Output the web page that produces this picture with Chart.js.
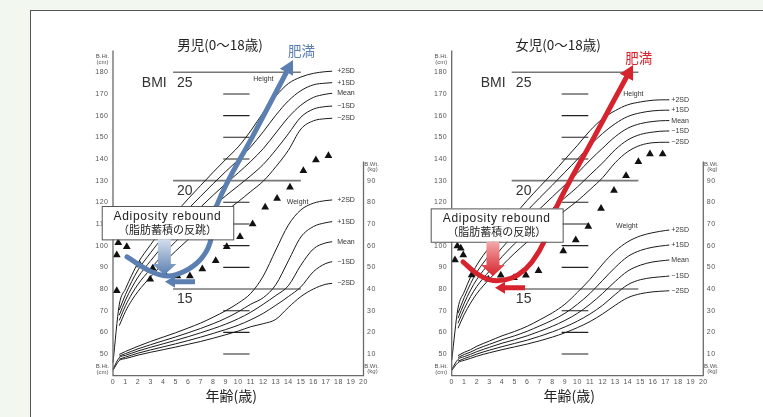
<!DOCTYPE html>
<html><head><meta charset="utf-8">
<script src="https://cdn.jsdelivr.net/npm/chart.js@4.4.1/dist/chart.umd.min.js"></script>
<style>
html,body{margin:0;padding:0;background:#f2f7f0;width:763px;height:417px;overflow:hidden}
#panel{position:absolute;left:30px;top:10px;width:760px;height:420px;background:#fff;border:1px solid #555}
canvas{position:absolute;top:0}
#c1{left:0}
#c2{left:400px}
</style></head><body>
<div id="panel"></div>
<canvas id="c1" width="400" height="417"></canvas>
<canvas id="c2" width="363" height="417"></canvas>
<script>
// ticks
const xTicks = [0,1,2,3,4,5,6,7,8,9,10,11,12,13,14,15,16,17,18,19,20];
const htTicks = [50,60,70,80,90,100,110,120,130,140,150,160,170,180];
const wtTicks = [10,20,30,40,50,60,70,80,90];
const sdLabels = ['+2SD','+1SD','Mean','\u22121SD','\u22122SD'];

// BMI reference lines (height axis)
const bmiVals = ['25','20','15'];
const bmiHt = [180,130,80];
const bmiShortHt = [170,160,150,140,120,110,100,90,70,60,50];

// boys
const boyAges = [0,0.5,1,1.5,2,3,4,5,6,7,8,9,10,11,12,13,14,15,16,17,17.5];
const boyHtP2 = [46.0,72.7,80.1,86.4,92.1,100.4,108.2,115.1,121.6,127.8,133.9,139.8,145.6,153.0,161.5,169.0,174.8,177.8,179.5,180.3,180.5];
const boyHtP1 = [null,70.3,77.5,83.5,88.8,96.7,104.1,110.7,116.9,122.8,128.6,134.2,139.6,145.6,152.6,160.2,166.8,171.5,174.2,175.0,175.2];
const boyHtM  = [null,67.9,74.9,80.6,85.5,93.0,100.0,106.3,112.2,117.8,123.3,128.6,133.6,138.9,144.8,152.0,159.2,164.8,168.4,169.9,170.3];
const boyHtM1 = [null,65.5,72.3,77.7,82.2,89.3,95.9,101.9,107.5,112.8,118.0,123.0,127.6,132.3,137.5,144.2,151.6,159.3,163.0,164.2,164.4];
const boyHtM2 = [null,63.1,69.7,74.8,78.9,85.6,91.8,97.5,102.8,107.8,112.7,116.0,120.3,125.0,129.8,136.4,144.0,153.8,157.6,158.6,158.8];
const boyWtP2 = [null,9.8,11.2,12.4,13.6,15.8,17.8,19.8,22.0,24.3,27.0,30.0,33.5,38.0,46.0,58.0,69.5,76.5,79.6,80.8,81.1];
const boyWtP1 = [null,9.0,10.2,11.3,12.4,14.3,16.1,17.9,19.8,21.8,24.0,26.5,29.5,33.0,36.0,42.0,53.0,64.0,68.8,70.6,71.1];
const boyWtM  = [3.0,8.3,9.4,10.4,11.4,13.1,14.7,16.3,18.0,19.8,21.7,23.8,26.3,29.3,33.0,37.0,41.5,51.0,58.5,61.3,61.8];
const boyWtM1 = [null,7.6,8.6,9.5,10.4,11.9,13.3,14.7,16.2,17.8,19.5,21.3,23.3,25.8,28.8,32.5,36.5,41.0,48.0,51.8,52.6];
const boyWtM2 = [2.5,7.0,7.9,8.7,9.5,10.8,12.0,13.2,14.5,15.8,17.3,18.9,20.6,22.6,24.0,26.0,31.5,36.5,40.0,42.2,42.6];
const boyTriAge = [0.3,0.3,0.42,1.1,2.15,2.97,3.17,4.15,5.14,6.14,7.13,8.2,9.08,10.14,11.15,12.15,13.1,14.13,15.2,16.2,17.2];
const boyTriHt  = [79.2,95.7,101.4,99.5,91.1,84.5,89.6,86.9,86.0,86.0,89.2,93.0,99.5,104.1,110.0,117.7,121.8,127.0,134.6,139.5,141.5];
const boyArrAge = [1.12,2.95,4.31,5.59,6.95,7.74,8.30,11.34,13.85];
const boyArrHt  = [94.8,88.3,86.0,87.8,93.4,101.2,118.8,152.5,180.0];

// girls
const girlAges = [0,0.5,1,1.5,2,3,4,5,6,7,8,9,10,11,12,13,14,15,16,17,17.3];
const girlHtP2 = [47.0,71.1,78.7,85.5,91.1,99.4,107.2,114.1,120.9,127.2,133.3,139.8,146.3,153.1,158.6,162.3,165.0,166.3,167.1,167.3,167.3];
const girlHtP1 = [null,68.8,76.1,82.5,87.8,95.7,103.1,109.7,116.1,122.1,127.9,133.9,139.9,146.3,151.8,156.3,159.6,161.3,162.2,162.5,162.5];
const girlHtM  = [null,66.5,73.5,79.5,84.5,92.0,99.0,105.3,111.3,117.0,122.5,128.0,133.5,139.5,145.0,150.3,154.2,156.3,157.3,157.7,157.7];
const girlHtM1 = [null,64.2,70.9,76.5,81.2,88.3,94.9,100.9,106.5,111.9,117.1,122.1,127.1,132.7,138.2,144.3,148.8,151.3,152.4,152.9,152.9];
const girlHtM2 = [null,61.9,68.3,73.5,77.9,84.6,90.8,96.5,101.7,106.8,111.7,116.2,120.7,125.9,131.4,138.3,143.4,146.3,147.5,147.7,147.7];
const girlWtP2 = [null,9.3,10.8,12.0,13.6,16.0,18.4,20.4,22.8,25.8,29.0,33.0,38.5,44.5,51.5,57.5,61.8,64.5,66.0,67.0,67.2];
const girlWtP1 = [null,8.4,9.8,10.9,12.3,14.5,16.6,18.4,20.5,23.0,25.6,28.8,33.0,38.0,44.0,50.0,55.0,57.8,59.3,60.1,60.3];
const girlWtM  = [2.9,7.5,8.8,9.9,11.1,13.1,15.0,16.6,18.4,20.5,22.8,25.5,28.8,33.0,38.0,43.5,48.3,51.0,52.5,53.2,53.4];
const girlWtM1 = [null,6.7,7.9,8.9,10.0,11.8,13.4,14.9,16.4,18.2,20.2,22.5,25.2,28.5,32.5,37.5,42.0,44.3,45.3,45.8,46.0];
const girlWtM2 = [2.4,6.0,7.1,8.0,9.0,10.6,12.0,13.3,14.6,16.1,17.8,19.8,22.2,25.0,28.5,32.5,36.0,37.8,38.7,39.1,39.2];
const girlTriAge = [0.26,0.45,0.72,0.92,1.59,2.91,3.9,4.95,5.9,6.9,8.87,9.86,10.86,11.87,12.9,13.86,14.84,15.76,16.77];
const girlTriHt  = [93.4,99.8,98.8,95.7,86.5,84.5,86.3,85.2,86.3,88.4,97.5,102.6,108.8,117.2,125.4,132.3,138.7,142.3,142.3];
const girlArrAge = [0.9,1.93,3.04,4.24,5.27,6.38,7.41,8.29,11.33,13.89];
const girlArrHt  = [92.5,87.4,84.2,84.2,86.5,92.5,102.6,117.3,150.2,177.7];

const latin = '"Liberation Sans", Arial, sans-serif';
const jp = '"Noto Sans CJK JP", sans-serif';

function pts(xs, ys) { return xs.map((x, i) => ({ x: x, y: ys[i] })); }

function makeDecor(d) {
  return {
    id: 'decor',
    afterDatasetsDraw(chart) {
      const ctx = chart.ctx, a = chart.chartArea;
      const X = v => chart.scales.x.getPixelForValue(v);
      const Y = v => chart.scales.y.getPixelForValue(v);
      const W = v => chart.scales.y2.getPixelForValue(v);
      ctx.save();

      // axes
      ctx.strokeStyle = '#6a6a6a'; ctx.lineWidth = 1.3;
      ctx.beginPath();
      ctx.moveTo(a.left, a.top); ctx.lineTo(a.left, a.bottom);
      ctx.lineTo(a.right, a.bottom); ctx.lineTo(a.right, W(98.8));
      ctx.stroke();

      // tick labels
      ctx.fillStyle = '#555'; ctx.font = '7px ' + latin; ctx.letterSpacing = '0.5px';
      ctx.textBaseline = 'middle';
      ctx.textAlign = 'right';
      htTicks.forEach(t => ctx.fillText(String(t), a.left - 4.5, Y(t)));
      ctx.textAlign = 'left';
      wtTicks.forEach(t => ctx.fillText(String(t), a.right + 3.5, W(t)));
      ctx.textAlign = 'center';
      xTicks.forEach(t => ctx.fillText(String(t), X(t), a.bottom + 6.5));
      ctx.font = '6px ' + latin; ctx.letterSpacing = '0px';
      ctx.fillText('B.Ht.', a.left - 10.5, a.top + 6);
      ctx.fillText('(cm)', a.left - 10.5, a.top + 11.5);
      ctx.fillText('B.Ht.', a.left - 10.5, a.bottom - 9);
      ctx.fillText('(cm)', a.left - 10.5, a.bottom - 3.5);
      ctx.fillText('B.Wt.', a.right + 8, W(98.8) + 2.5);
      ctx.fillText('(kg)', a.right + 9, W(98.8) + 8);
      ctx.fillText('B.Wt.', a.right + 8, a.bottom - 9.5);
      ctx.fillText('(kg)', a.right + 9, a.bottom - 4);

      // BMI numbers
      ctx.fillStyle = '#333'; ctx.font = '14px ' + latin; ctx.textAlign = 'left';
      ctx.fillText('BMI', X(2.3), Y(175.2));
      bmiVals.forEach((s, i) => ctx.fillText(s, X(5.1), Y(bmiHt[i] - 4.8)));

      // curve end labels
      ctx.font = '7px ' + latin; ctx.fillStyle = '#333';
      const n = d.ages.length - 1, lx = X(d.ages[n]) + d.lblGap;
      d.ht.forEach((v, i) => ctx.fillText(sdLabels[i], lx, Y(v[n])));
      d.wt.forEach((v, i) => ctx.fillText(sdLabels[i], lx, W(v[n])));
      ctx.fillText('Height', X(d.htLbl[0]), Y(d.htLbl[1]));
      ctx.fillText('Weight', X(d.wtLbl[0]), Y(d.wtLbl[1]));

      // adiposity rebound box
      const bx0 = X(d.box[0]), bx1 = X(d.box[1]), by0 = Y(d.box[2]), by1 = Y(d.box[3]);
      ctx.fillStyle = '#fff'; ctx.fillRect(bx0, by0, bx1 - bx0, by1 - by0);
      ctx.strokeStyle = '#555'; ctx.lineWidth = 1; ctx.strokeRect(bx0 + 0.5, by0 + 0.5, bx1 - bx0, by1 - by0);
      ctx.fillStyle = '#222'; ctx.textAlign = 'center';
      ctx.font = '12px ' + latin; ctx.letterSpacing = '0.7px';
      ctx.fillText('Adiposity rebound', (bx0 + bx1) / 2, by0 + 10.5);
      ctx.font = '11px ' + jp; ctx.letterSpacing = '0px';
      ctx.fillText('（脂肪蓄積の反跳）', (bx0 + bx1) / 2, by0 + 23.5);

      // down arrow
      const dx = X(d.down[0]), dy0 = Y(d.down[1]), dy1 = Y(d.down[2]);
      const g = ctx.createLinearGradient(0, dy0, 0, dy1);
      g.addColorStop(0, d.light); g.addColorStop(1, d.color);
      ctx.fillStyle = g;
      ctx.beginPath();
      ctx.moveTo(dx - 6.5, dy0); ctx.lineTo(dx + 6.5, dy0); ctx.lineTo(dx + 6.5, dy1 - 11);
      ctx.lineTo(dx + 12, dy1 - 11); ctx.lineTo(dx, dy1); ctx.lineTo(dx - 12, dy1 - 11);
      ctx.lineTo(dx - 6.5, dy1 - 11); ctx.closePath(); ctx.fill();

      // left arrow
      const lx0 = X(d.left[0]), lx1 = X(d.left[1]), ly = Y(d.left[2]);
      ctx.fillStyle = d.color;
      ctx.beginPath();
      ctx.moveTo(lx0, ly - 2.5); ctx.lineTo(lx1 + 10, ly - 2.5); ctx.lineTo(lx1 + 10, ly - 6);
      ctx.lineTo(lx1, ly); ctx.lineTo(lx1 + 10, ly + 6); ctx.lineTo(lx1 + 10, ly + 2.5);
      ctx.lineTo(lx0, ly + 2.5); ctx.closePath(); ctx.fill();

      // head of the obesity arrow
      const p = chart.getDatasetMeta(d.arrowIndex).data, m = p.length;
      const ex = p[m - 1].x, ey = p[m - 1].y;
      const vx = ex - p[m - 2].x, vy = ey - p[m - 2].y, L = Math.hypot(vx, vy);
      const ux = vx / L, uy = vy / L;
      ctx.beginPath();
      ctx.moveTo(ex + ux * 14, ey + uy * 14);
      ctx.lineTo(ex - uy * 7.5, ey + ux * 7.5);
      ctx.lineTo(ex + uy * 7.5, ey - ux * 7.5);
      ctx.closePath(); ctx.fill();

      ctx.font = '13.5px ' + jp; ctx.textAlign = 'left';
      ctx.fillText('肥満', X(d.himan[0]), Y(d.himan[1]));

      // titles
      ctx.fillStyle = '#222'; ctx.textAlign = 'center';
      ctx.fillText(d.title, X(d.titleX), 45);
      ctx.font = '14px ' + jp;
      ctx.fillText('年齢(歳)', X(d.titleX + 0.9), a.bottom + 19.5);
      ctx.restore();
    }
  };
}

function buildChart(id, d) {
  const curve = (vals, axis) => ({
    data: pts(d.ages, vals), yAxisID: axis, borderColor: '#1a1a1a', borderWidth: 1,
    pointRadius: 0, cubicInterpolationMode: 'monotone', order: 2, clip: false
  });
  const datasets = [];
  d.ht.forEach(v => datasets.push(curve(v, 'y')));
  d.wt.forEach(v => datasets.push(curve(v, 'y2')));
  bmiHt.forEach(h => datasets.push({
    data: [{ x: d.bmiFrom, y: h }, { x: d.bmiTo, y: h }], borderColor: '#777', borderWidth: 1.6,
    pointRadius: 0, order: 3
  }));
  const shorts = [];
  bmiShortHt.forEach(h => shorts.push({ x: d.shortFrom, y: h }, { x: d.shortTo, y: h }, { x: d.shortTo, y: null }));
  datasets.push({ data: shorts, borderColor: '#222', borderWidth: 1.1, pointRadius: 0, spanGaps: false, order: 3 });
  datasets.push({
    data: pts(d.triAge, d.triHt), showLine: false, pointStyle: 'triangle', pointRadius: 4.5,
    backgroundColor: '#111', borderColor: '#111', borderWidth: 0, order: 1, clip: false
  });
  d.arrowIndex = datasets.length;
  datasets.push({
    data: pts(d.arrAge, d.arrHt), borderColor: d.color, borderWidth: 5, pointRadius: 0,
    tension: 0.4, order: 0, clip: false, borderCapStyle: 'round'
  });

  new Chart(document.getElementById(id), {
    type: 'line',
    data: { datasets: datasets },
    options: {
      responsive: false, animation: false, events: [],
      layout: { padding: { left: d.padL, right: d.padR, top: 50.6, bottom: 41.3 } },
      plugins: { legend: { display: false }, tooltip: { enabled: false } },
      scales: {
        x: { type: 'linear', min: 0, max: 20, display: false },
        y: { type: 'linear', min: 40, max: 190, display: false },
        y2: { type: 'linear', min: 0, max: 150, display: false, position: 'right' }
      }
    },
    plugins: [makeDecor(d)]
  });
}

buildChart('c1', {
  ages: boyAges,
  ht: [boyHtP2, boyHtP1, boyHtM, boyHtM1, boyHtM2],
  wt: [boyWtP2, boyWtP1, boyWtM, boyWtM1, boyWtM2],
  triAge: boyTriAge, triHt: boyTriHt, arrAge: boyArrAge, arrHt: boyArrHt,
  color: '#5a7fb0', light: '#d4deec',
  padL: 113, padR: 36.5, lblGap: 5,
  bmiFrom: 4.8, bmiTo: 15, shortFrom: 8.8, shortTo: 10.9,
  box: [-0.9, 9.6, 118.3, 102.9], down: [4.1, 102.9, 86.5], left: [6.55, 4.15, 83.4],
  himan: [13.97, 190], title: '男児(0〜18歳)', titleX: 8.54,
  htLbl: [11.2, 176.9], wtLbl: [13.87, 120]
});

buildChart('c2', {
  ages: girlAges,
  ht: [girlHtP2, girlHtP1, girlHtM, girlHtM1, girlHtM2],
  wt: [girlWtP2, girlWtP1, girlWtM, girlWtM1, girlWtM2],
  triAge: girlTriAge, triHt: girlTriHt, arrAge: girlArrAge, arrHt: girlArrHt,
  color: '#d7232d', light: '#f2a9a9',
  padL: 51.7, padR: 59.7, lblGap: 2,
  bmiFrom: 4.77, bmiTo: 14.84, shortFrom: 8.74, shortTo: 10.86,
  box: [-1.67, 8.82, 117.2, 101.8], down: [3.28, 101.8, 86], left: [5.83, 3.44, 80.6],
  himan: [13.79, 186.6], title: '女児(0〜18歳)', titleX: 8.45,
  htLbl: [13.64, 170], wtLbl: [13.06, 109.2]
});
</script>
</body></html>
